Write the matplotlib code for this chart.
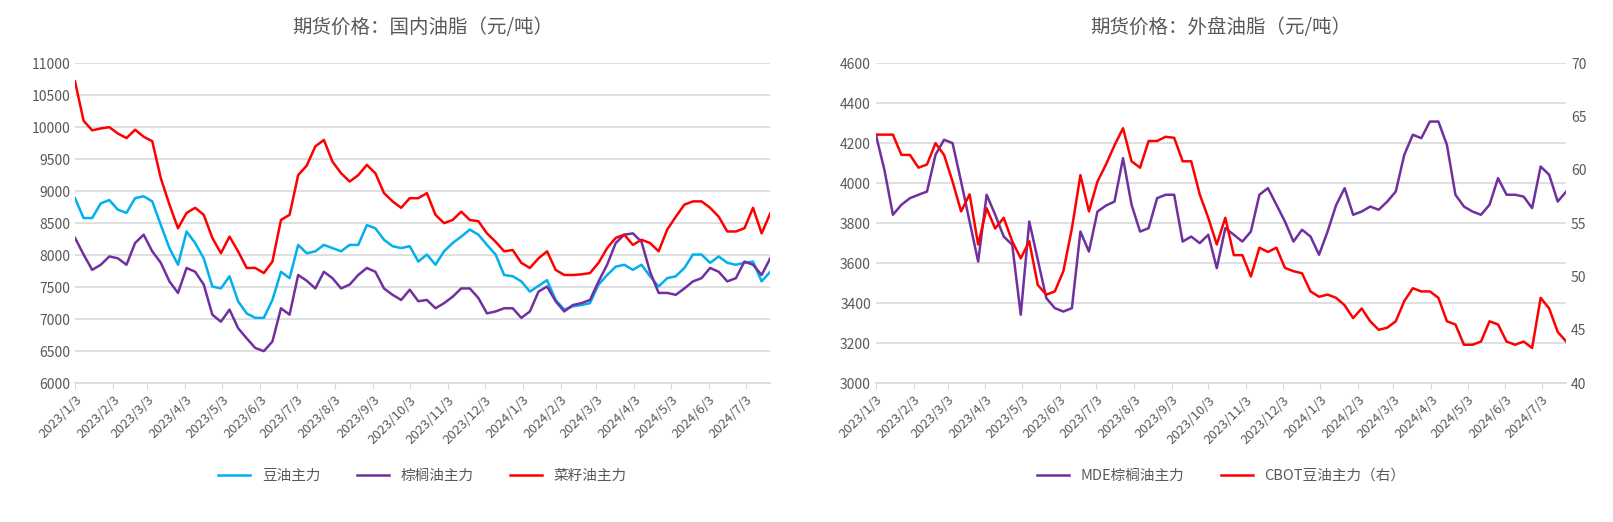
import matplotlib
matplotlib.use("Agg")
import matplotlib.pyplot as plt
import matplotlib.dates as mdates
from matplotlib.ticker import FuncFormatter
import pandas as pd

plt.rcParams['font.family'] = ['Noto Sans CJK SC', 'DejaVu Sans']

# weekly samples, 2023/1/3 .. 2024/7/23
dates = pd.date_range('2023-01-03', periods=82, freq='7D')

soy_dce = [8890, 8580, 8580, 8810, 8860, 8710, 8660, 8890, 8920, 8840,
           8470, 8110, 7850, 8370, 8190, 7950, 7510, 7480, 7670, 7280,
           7090, 7020, 7020, 7300, 7740, 7640, 8160, 8030, 8060, 8160,
           8110, 8060, 8160, 8160, 8470, 8420, 8240, 8140, 8110, 8140,
           7900, 8010, 7850, 8060, 8190, 8290, 8400, 8320, 8160, 8010,
           7690, 7670, 7590, 7430, 7520, 7610, 7300, 7150, 7200, 7220,
           7250, 7540, 7690, 7820, 7850, 7770, 7850, 7670, 7510, 7640,
           7670, 7800, 8010, 8010, 7880, 7980, 7880, 7850, 7880, 7900,
           7590, 7740]
palm_dce = [8270, 8010, 7770, 7850, 7980, 7950, 7850, 8190, 8320, 8060,
            7880, 7590, 7410, 7800, 7740, 7540, 7070, 6960, 7150, 6860,
            6700, 6550, 6500, 6650, 7170, 7070, 7690, 7600, 7480, 7740,
            7640, 7480, 7540, 7690, 7800, 7740, 7480, 7380, 7300, 7460,
            7280, 7300, 7170, 7250, 7350, 7480, 7480, 7330, 7090, 7120,
            7170, 7170, 7020, 7120, 7430, 7510, 7280, 7120, 7220, 7250,
            7300, 7590, 7850, 8190, 8320, 8340, 8210, 7740, 7410, 7410,
            7380, 7480, 7590, 7640, 7800, 7740, 7590, 7640, 7900, 7850,
            7690, 7950]
rape_zce = [10715, 10100, 9950, 9980, 10000, 9900, 9830, 9960, 9850, 9780,
            9200, 8790, 8420, 8660, 8740, 8630, 8270, 8030, 8290, 8060,
            7800, 7800, 7720, 7900, 8550, 8630, 9250, 9400, 9700, 9800,
            9460, 9280, 9150, 9250, 9410, 9280, 8970, 8840, 8740, 8890,
            8890, 8970, 8630, 8500, 8550, 8680, 8550, 8530, 8340, 8210,
            8060, 8080, 7880, 7800, 7950, 8060, 7770, 7690, 7690, 7700,
            7720, 7880, 8110, 8270, 8320, 8160, 8240, 8190, 8060, 8400,
            8600, 8790, 8840, 8840, 8740, 8600, 8370, 8370, 8420, 8740,
            8340, 8650]

palm_mde = [4242, 4067, 3842, 3892, 3925, 3942, 3958, 4142, 4217, 4200,
            4008, 3808, 3608, 3942, 3842, 3733, 3692, 3342, 3808, 3617,
            3425, 3375, 3358, 3375, 3758, 3658, 3858, 3888, 3908, 4125,
            3892, 3758, 3775, 3925, 3942, 3942, 3708, 3733, 3700, 3742,
            3575, 3775, 3742, 3708, 3758, 3942, 3975, 3892, 3808, 3708,
            3767, 3733, 3642, 3758, 3890, 3975, 3842, 3858, 3883, 3867,
            3908, 3958, 4142, 4242, 4225, 4308, 4308, 4192, 3942, 3883,
            3858, 3842, 3892, 4025, 3942, 3942, 3933, 3875, 4083, 4042,
            3908, 3958]
soy_cbot = [63.3, 63.3, 63.3, 61.4, 61.4, 60.2, 60.5, 62.5, 61.4, 58.9,
            56.1, 57.7, 53.0, 56.4, 54.5, 55.5, 53.3, 51.7, 53.3, 49.2,
            48.3, 48.6, 50.5, 54.5, 59.5, 56.1, 58.9, 60.5, 62.3, 63.9,
            60.8, 60.2, 62.7, 62.7, 63.1, 63.0, 60.8, 60.8, 57.7, 55.5,
            53.0, 55.5, 52.0, 52.0, 50.0, 52.7, 52.3, 52.7, 50.8, 50.5,
            50.3, 48.6, 48.1, 48.3, 48.0, 47.3, 46.1, 47.0, 45.8, 45.0,
            45.2, 45.8, 47.7, 48.9, 48.6, 48.6, 48.0, 45.8, 45.5, 43.6,
            43.6, 43.9, 45.8, 45.5, 43.9, 43.6, 43.9, 43.3, 48.0, 47.0,
            44.8, 43.9]

month_ticks = pd.date_range('2023-01-03', '2024-07-03', freq=pd.DateOffset(months=1))

GRAY = '#595959'
GRID = '#d9d9d9'


def date_label(x, pos):
    d = mdates.num2date(x)
    return f"{d.year}/{d.month}/{d.day}"


def style_axis(ax):
    ax.set_xlim(dates[0], dates[-1])
    ax.set_xticks(month_ticks)
    ax.xaxis.set_major_formatter(FuncFormatter(date_label))
    ax.tick_params(axis='x', labelrotation=45, labelsize=9.5, colors=GRAY,
                   length=4, color=GRID)
    for lab in ax.get_xticklabels():
        lab.set_ha('right')
        lab.set_rotation_mode('anchor')
    ax.tick_params(axis='y', labelsize=10, colors=GRAY, length=0)
    ax.grid(axis='y', color=GRID, lw=1.2)
    ax.set_axisbelow(True)
    for s in ['top', 'right', 'left']:
        ax.spines[s].set_visible(False)
    ax.spines['bottom'].set_color(GRID)
    ax.spines['bottom'].set_linewidth(1.2)


fig = plt.figure(figsize=(16.13, 5.22), dpi=100)

# left: domestic oils
ax1 = fig.add_axes([0.0465, 0.266, 0.431, 0.613])
ax1.plot(dates, soy_dce, color='#00B0F0', lw=1.8, label='豆油主力')
ax1.plot(dates, palm_dce, color='#7030A0', lw=1.8, label='棕榈油主力')
ax1.plot(dates, rape_zce, color='#FF0000', lw=1.8, label='菜籽油主力')
ax1.set_ylim(6000, 11000)
ax1.set_yticks(range(6000, 11001, 500))
style_axis(ax1)
ax1.set_title('期货价格：国内油脂（元/吨）', fontsize=14, color=GRAY, pad=22)
ax1.legend(loc='center', bbox_to_anchor=(0.5, -0.29), ncol=3, frameon=False,
           fontsize=10.5, labelcolor=GRAY, handlelength=2.2, columnspacing=2.5)

# right: overseas oils
ax2 = fig.add_axes([0.543, 0.266, 0.428, 0.613])
l1, = ax2.plot(dates, palm_mde, color='#7030A0', lw=1.8, label='MDE棕榈油主力')
ax2.set_ylim(3000, 4600)
ax2.set_yticks(range(3000, 4601, 200))
style_axis(ax2)
ax3 = ax2.twinx()
l2, = ax3.plot(dates, soy_cbot, color='#FF0000', lw=1.8, label='CBOT豆油主力（右）')
ax3.set_ylim(40, 70)
ax3.set_yticks(range(40, 71, 5))
ax3.tick_params(axis='y', labelsize=10, colors=GRAY, length=0)
for s in ax3.spines.values():
    s.set_visible(False)
ax2.set_title('期货价格：外盘油脂（元/吨）', fontsize=14, color=GRAY, pad=22)
ax2.legend(handles=[l1, l2], loc='center', bbox_to_anchor=(0.5, -0.29), ncol=2,
           frameon=False, fontsize=10.5, labelcolor=GRAY, handlelength=2.2,
           columnspacing=2.5)

fig.savefig('out.png', dpi=100, facecolor='white')
